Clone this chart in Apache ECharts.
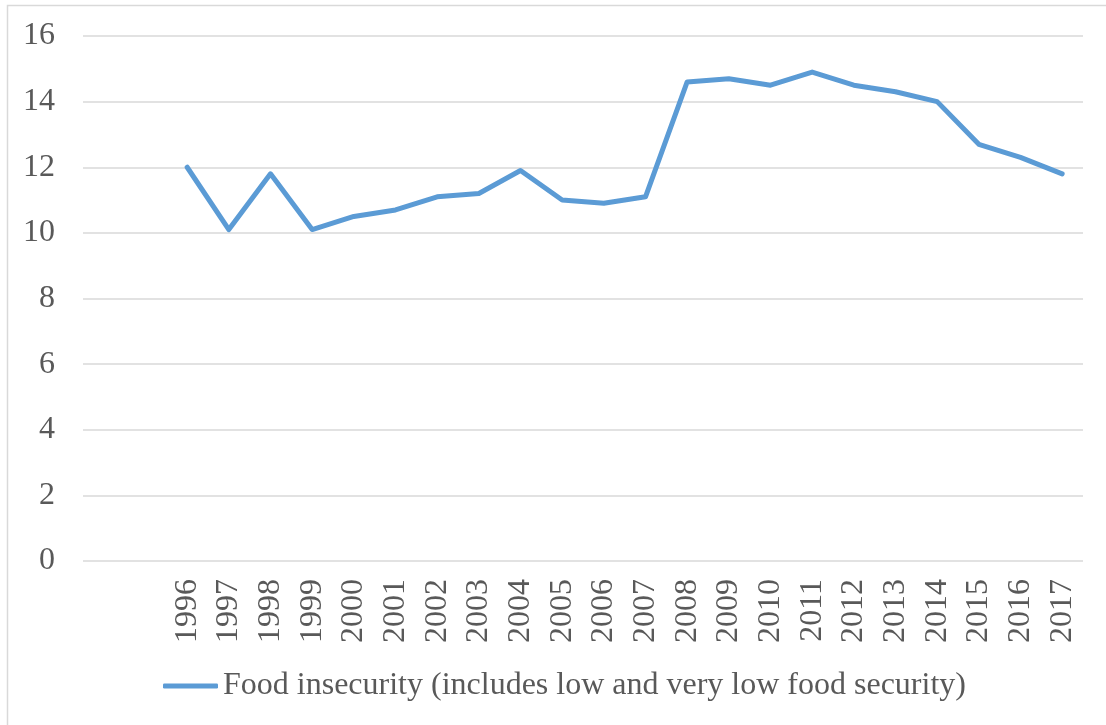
<!DOCTYPE html>
<html>
<head>
<meta charset="utf-8">
<title>Food insecurity, 1996–2017</title>
<script src="https://cdn.jsdelivr.net/npm/echarts@6/dist/echarts.min.js"></script>
<style>
  html, body { margin: 0; padding: 0; background: #ffffff; }
  #chart { width: 1106px; height: 725px; }
</style>
</head>
<body>
<div id="chart"></div>
<script>
// Survey years and share of households that are food insecure (%)
const years = ['1996', '1997', '1998', '1999', '2000', '2001', '2002', '2003', '2004', '2005', '2006',
               '2007', '2008', '2009', '2010', '2011', '2012', '2013', '2014', '2015', '2016', '2017'];
const foodInsecurity = [12.0, 10.1, 11.8, 10.1, 10.5, 10.7, 11.1, 11.2, 11.9, 11.0, 10.9,
                        11.1, 14.6, 14.7, 14.5, 14.9, 14.5, 14.3, 14.0, 12.7, 12.3, 11.8];
const seriesName = 'Food insecurity (includes low and very low food security)';
const yTicks = { min: 0, max: 16, interval: 2 };

// The source sheet had two empty rows ahead of 1996; keep those slots on the axis.
const leadingBlanks = 2;
const axisCategories = Array(leadingBlanks).fill('').concat(years);
const axisValues = Array(leadingBlanks).fill(null).concat(foodInsecurity);

const textColor = '#595959';
const gridColor = '#d9d9d9';
const lineColor = '#5b9bd5';
const font = '"Liberation Serif", "Times New Roman", serif';
const fontSize = 32;

const chart = echarts.init(document.getElementById('chart'), null, { renderer: 'canvas' });

chart.setOption({
  animation: false,
  backgroundColor: '#ffffff',
  textStyle: { fontFamily: font },
  graphic: [{
    type: 'rect',
    shape: { x: 7.5, y: 5.5, width: 1110, height: 740 },
    style: { fill: 'none', stroke: gridColor, lineWidth: 1.5 },
    silent: true
  }],
  grid: { left: 83, right: 23, top: 36, bottom: 164, containLabel: false },
  legend: {
    data: [{ name: seriesName, icon: 'roundRect' }],
    left: 163,
    top: 670,
    padding: 0,
    itemWidth: 55,
    itemHeight: 5,
    itemGap: 5,
    textStyle: { color: textColor, fontSize: fontSize, fontFamily: font }
  },
  xAxis: {
    type: 'category',
    data: axisCategories,
    boundaryGap: true,
    axisLine: { show: false },
    axisTick: { show: false },
    axisLabel: {
      rotate: 90,
      interval: 0,
      margin: 18,
      color: textColor,
      fontSize: fontSize,
      fontFamily: font
    },
    splitLine: { show: false }
  },
  yAxis: {
    type: 'value',
    min: yTicks.min,
    max: yTicks.max,
    interval: yTicks.interval,
    axisLine: { show: false },
    axisTick: { show: false },
    axisLabel: { color: textColor, fontSize: fontSize, fontFamily: font, margin: 28 },
    splitLine: { lineStyle: { color: gridColor, width: 1.5 } }
  },
  series: [{
    name: seriesName,
    type: 'line',
    data: axisValues,
    showSymbol: false,
    symbol: 'none',
    connectNulls: false,
    lineStyle: { color: lineColor, width: 5, cap: 'round', join: 'round' },
    itemStyle: { color: lineColor }
  }]
});
</script>
</body>
</html>
